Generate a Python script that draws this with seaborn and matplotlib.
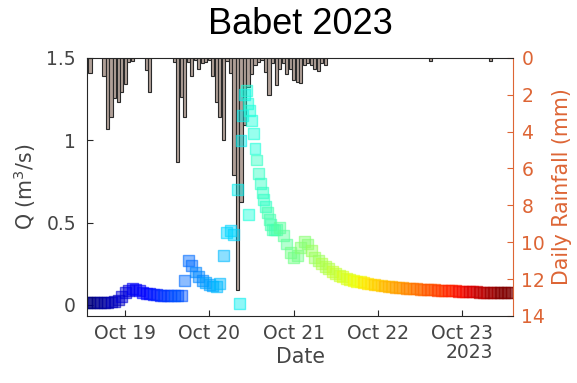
import numpy as np
import pandas as pd
import seaborn as sns
import matplotlib.pyplot as plt
import matplotlib.dates as mdates

sns.set_style("white")
plt.rcParams['font.family'] = ['DejaVu Sans']

# discharge, one value per hour starting Oct 18 13:00 (hour -11 from Oct 19 00:00)
start = pd.Timestamp("2023-10-19 00:00")
q_first_hour = -11
q_values = [
    0.012, 0.012, 0.013, 0.013, 0.014, 0.015, 0.016, 0.018, 0.020, 0.030,
    0.050, 0.075, 0.090, 0.097, 0.093, 0.085, 0.078, 0.072, 0.068, 0.064,
    0.062, 0.060, 0.058, 0.058, 0.057, 0.056, 0.055, 0.060, 0.150, 0.270,
    0.240, 0.200, 0.170, 0.150, 0.135, 0.125, 0.115, 0.110, 0.130, 0.300,
    0.440, 0.450, 0.430, 0.700, 1.000, 1.280, 1.220, 1.120, 0.950, 0.800,
    0.680, 0.600, 0.520, 0.460, 0.460, 0.470, 0.420, 0.370, 0.320, 0.290,
    0.300, 0.350, 0.385, 0.370, 0.330, 0.290, 0.270, 0.250, 0.235, 0.220,
    0.205, 0.190, 0.180, 0.170, 0.163, 0.156, 0.150, 0.145, 0.140, 0.135,
    0.130, 0.127, 0.124, 0.121, 0.118, 0.115, 0.112, 0.110, 0.108, 0.106,
    0.104, 0.102, 0.100, 0.098, 0.097, 0.095, 0.094, 0.093, 0.092, 0.091,
    0.090, 0.089, 0.088, 0.087, 0.086, 0.085, 0.084, 0.083, 0.082, 0.081,
    0.080, 0.079, 0.078, 0.077, 0.077, 0.076, 0.075, 0.075, 0.074, 0.074,
    0.073, 0.073,
]
# extra half-hour readings on the flood peak, incl. two odd readings
extra_hours = [32.5, 33.5, 34.5, 35.25, 35.5, 36.5, 37.5, 38.5, 39.5, 40.5, 41.5, 42.5]
extra_q = [0.01, 1.15, 1.30, 0.55, 1.18, 1.04, 0.88, 0.74, 0.64, 0.56, 0.49, 0.455]

# hourly rainfall (mm), hours from Oct 19 00:00
rain_hours = [-10, -6, -5, -4, -3, -2, -1, 0, 1, 2, 6, 7, 14, 15, 16, 17, 18, 19,
              20, 21, 22, 23, 24, 25, 26, 27, 28, 29, 30, 31, 32, 33, 34, 35, 36,
              37, 38, 39, 40, 41, 42, 43, 44, 45, 46, 47, 48, 49, 50, 51, 52, 53,
              54, 55, 56, 57, 87, 104]
rain_mm = [0.8, 1.0, 3.85, 3.2, 2.2, 2.4, 1.85, 1.4, 0.2, 0.15, 0.65, 1.85, 0.2, 5.65,
           2.1, 3.2, 0.2, 1.0, 0.1, 0.6, 0.3, 0.2, 0.1, 1.0, 2.4, 3.2, 4.45, 0.15,
           0.8, 6.35, 12.6, 7.8, 3.65, 1.6, 0.9, 0.4, 0.2, 0.1, 0.75, 2.0, 0.3,
           1.45, 0.6, 0.3, 0.85, 0.6, 1.2, 1.3, 1.35, 0.4, 0.3, 0.4, 0.6, 0.7, 0.3,
           0.4, 0.15, 0.15]

q_hours = list(np.arange(q_first_hour, q_first_hour + len(q_values))) + extra_hours
flow = pd.DataFrame({"hour": q_hours, "q": q_values + extra_q}).sort_values("hour")
flow["time"] = start + pd.to_timedelta(flow["hour"], unit="h")
rain_times = start + pd.to_timedelta(rain_hours, unit="h")

dark = '#262626'
text_c = '#454545'
orange = '#dd6535'

fig = plt.figure(figsize=(5.77, 3.83), dpi=100)
ax = fig.add_axes([0.151, 0.175, 0.738, 0.674])
ax2 = ax.twinx()

# rainfall bars hanging from the top
ax2.bar(rain_times, rain_mm, width=0.9 / 24, color='#b0a098', edgecolor='#2a2a2a',
        linewidth=0.8)
ax2.set_ylim(14, 0)
ax2.set_yticks(range(0, 15, 2))
ax2.tick_params(axis='y', direction='in', length=4, colors=orange, labelsize=13.5, pad=6)
ax2.set_ylabel("Daily Rainfall (mm)", color=orange, fontsize=14.8, labelpad=5)
for s in ['left', 'top', 'bottom']:
    ax2.spines[s].set_visible(False)
ax2.spines['right'].set_color(orange)
ax2.spines['right'].set_linewidth(0.8)

# discharge scatter, coloured by time
sns.scatterplot(data=flow, x="time", y="q", hue="hour", palette=plt.get_cmap('jet', 40),
                marker='s', s=62, legend=False, ax=ax)
coll = ax.collections[0]
fc = coll.get_facecolors().copy()
ec = fc.copy()
fc[:, 3] = 0.45
ec[:, 3] = 0.6
coll.set_facecolors(fc)
coll.set_edgecolors(ec)
coll.set_linewidths(1.0)

ax.set_zorder(ax2.get_zorder() + 1)
ax.patch.set_visible(False)

ax.set_ylim(-0.067, 1.5)
ax.set_yticks([0, 0.5, 1, 1.5])
ax.set_yticklabels(["0", "0.5", "1", "1.5"])
ax.set_xlim(start + pd.Timedelta(hours=-10.82), start + pd.Timedelta(hours=110.46))
ax.xaxis.set_major_locator(mdates.DayLocator())
ax.xaxis.set_major_formatter(mdates.DateFormatter('%b %d'))
ax.tick_params(axis='both', direction='in', length=4, colors=dark, labelcolor=text_c,
               labelsize=13.5)
ax.tick_params(axis='y', pad=8, left=True)
ax.tick_params(axis='x', pad=6, bottom=True)
ax.set_ylabel("Q (m$^3$/s)", fontsize=14.8, color=text_c, labelpad=6)
ax.set_xlabel("Date", fontsize=14.8, color=text_c, labelpad=3)
for s in ['left', 'top', 'bottom']:
    ax.spines[s].set_color(dark)
    ax.spines[s].set_linewidth(0.8)
ax.spines['right'].set_visible(False)

ax.annotate("2023", xy=(mdates.date2num(pd.Timestamp("2023-10-23")), 0),
            xycoords=('data', 'axes fraction'), xytext=(22.5, -26),
            textcoords='offset points', ha='right', va='center',
            fontsize=13.5, color=text_c)

ax.set_title("Babet 2023", fontsize=26, fontfamily='Liberation Sans', color='black', pad=17)

fig.savefig("out.png", dpi=100)
